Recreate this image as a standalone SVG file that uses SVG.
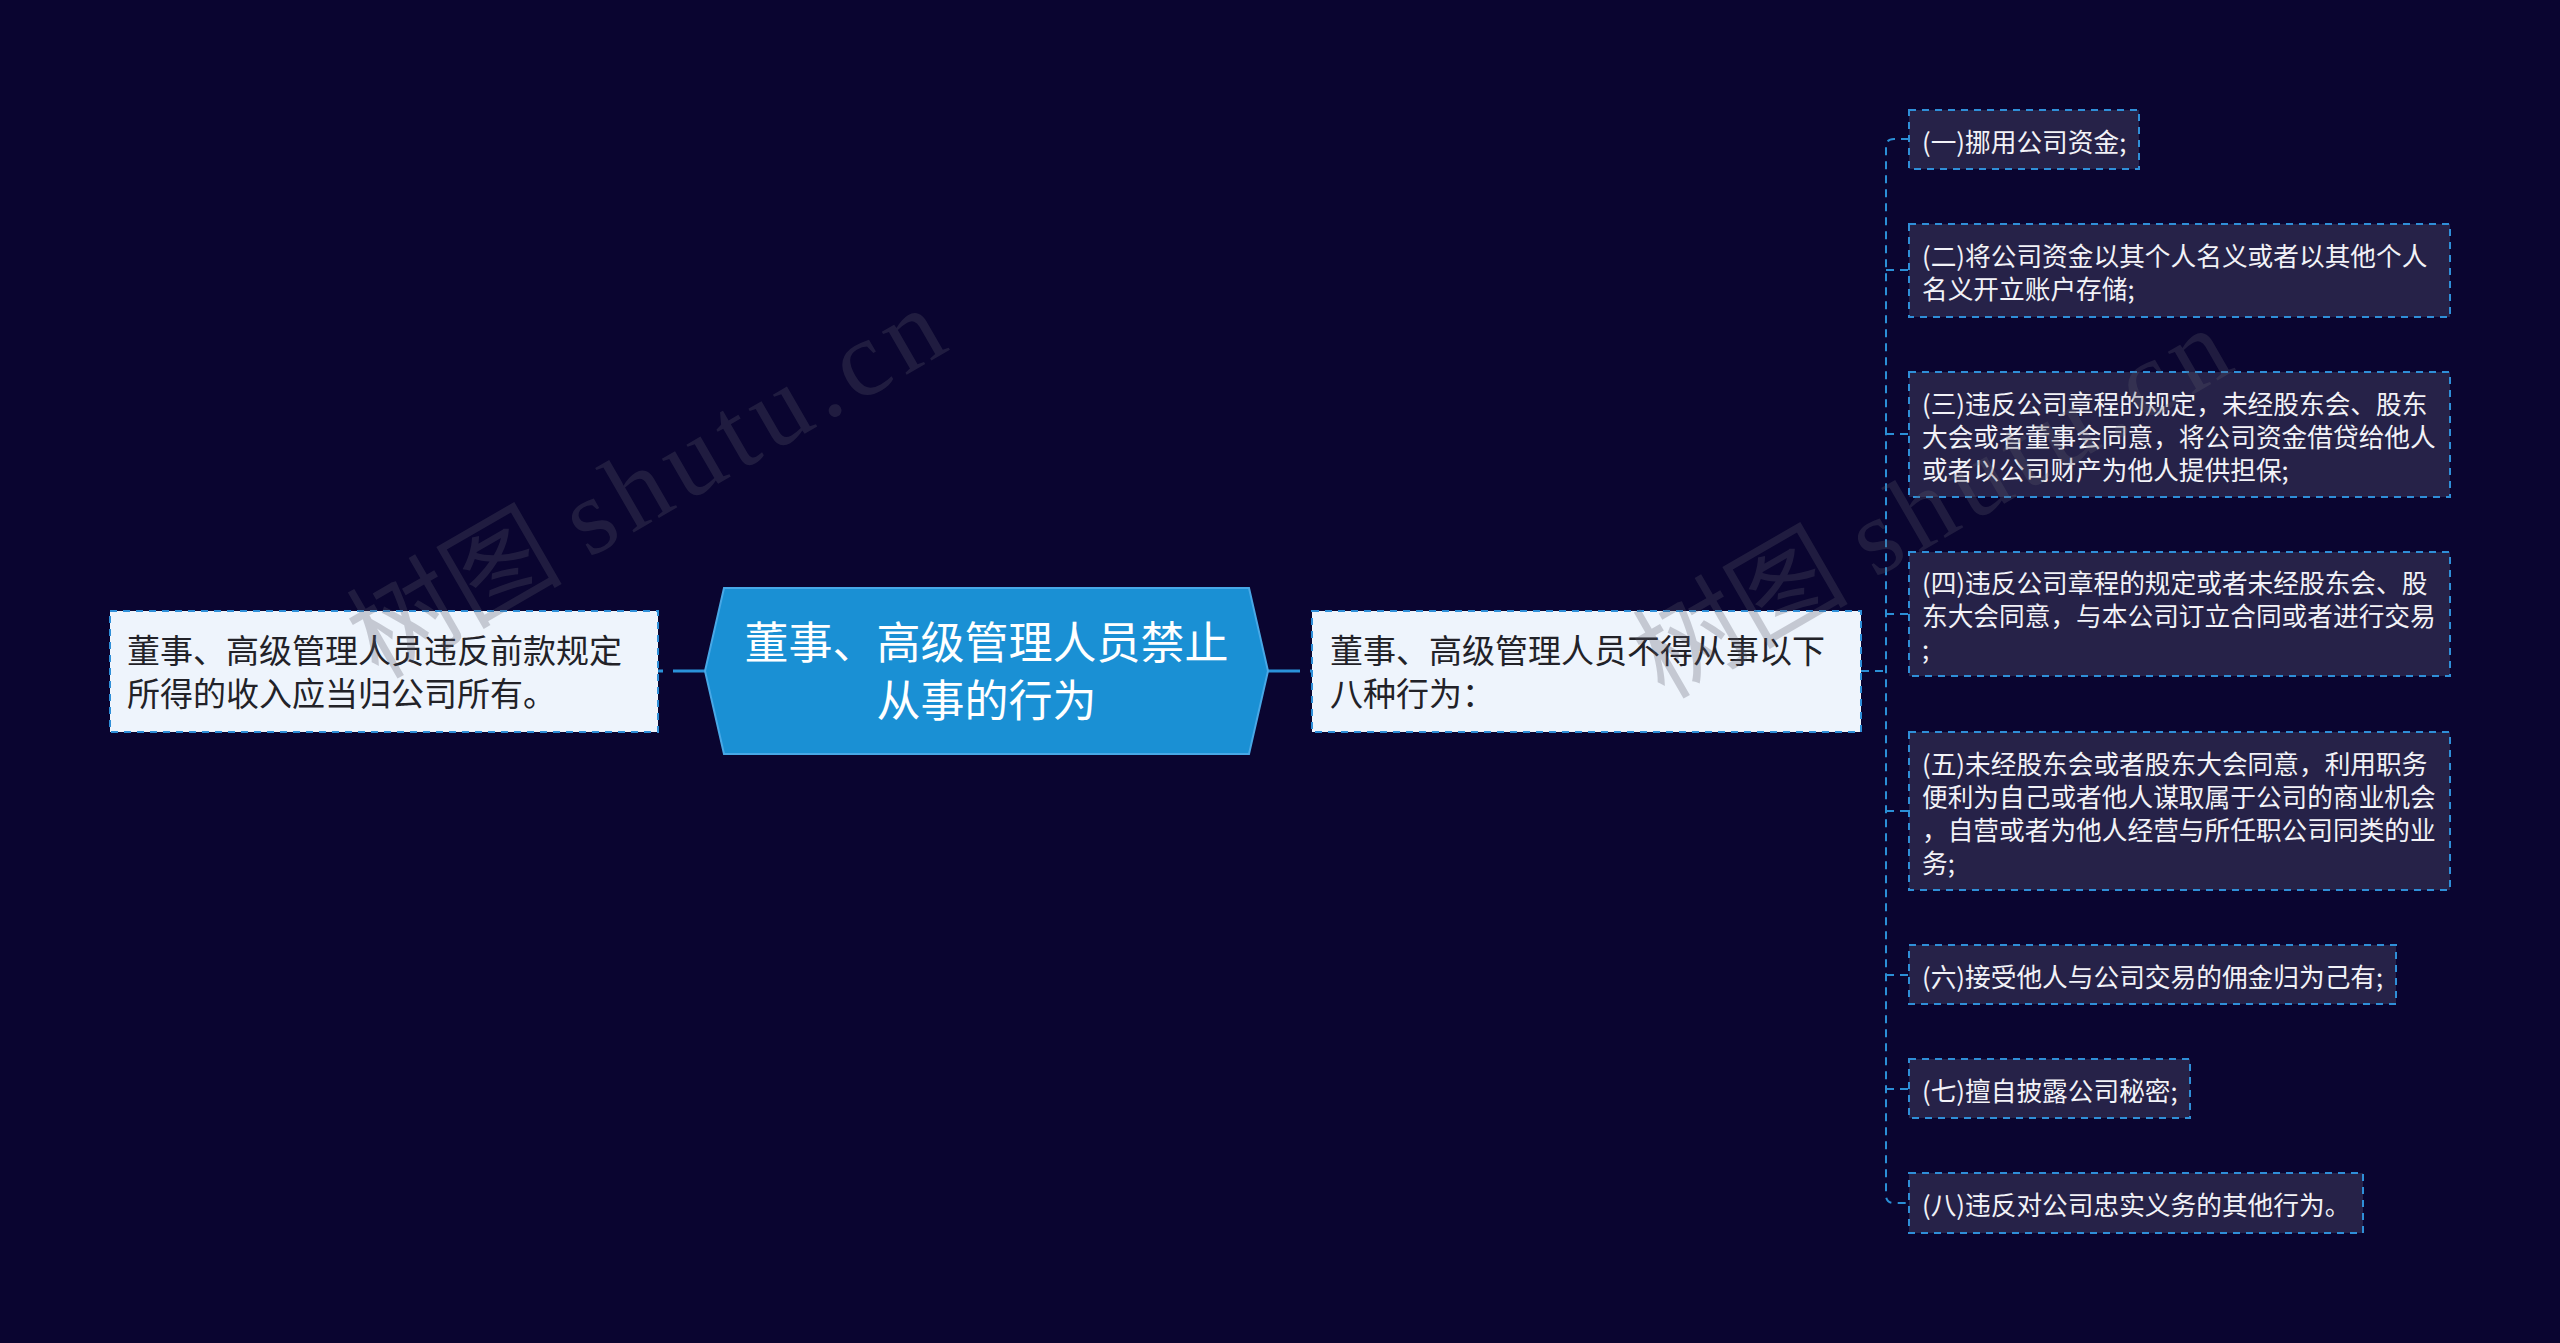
<svg xmlns="http://www.w3.org/2000/svg" width="2560" height="1343" viewBox="0 0 2560 1343">
<defs>
<style>
.bg{fill:#0a0530}
.conn{fill:none;stroke:#2b8fd6;stroke-width:2;stroke-dasharray:8 6}
.connmain{fill:none;stroke:#2a93da;stroke-width:3;stroke-dasharray:32 10}
.child rect{fill:#262248;stroke:#2f8fd8;stroke-width:2;stroke-dasharray:7 6}
.child text{font-family:"Noto Sans CJK SC","Liberation Sans",sans-serif;font-size:25.7px;fill:#f2f2f7}
.main rect{fill:#eef4fc;stroke:#2f8fd8;stroke-width:2;stroke-dasharray:7 6}
.main text{font-family:"Noto Sans CJK SC","Liberation Sans",sans-serif;font-size:33px;fill:#222228}
.center polygon{fill:#1a90d4;stroke:#48a8e6;stroke-width:2}
.center text{font-family:"Noto Sans CJK SC","Liberation Sans",sans-serif;font-size:44px;fill:#ffffff;text-anchor:middle}
.wm{font-family:"Liberation Serif","Noto Sans CJK SC",serif;font-size:108px;fill:#5a5a6a;opacity:0.28}
</style>
</defs>
<rect class="bg" x="0" y="0" width="2560" height="1343"/>

<g id="connectors">
<path class="connmain" d="M705,671 H658"/>
<path class="connmain" d="M1268,671 H1312"/>
<path class="conn" d="M1861,671 H1886"/>
<path class="conn" d="M1909,139 H1894 Q1886,139 1886,147 V1195 Q1886,1203 1894,1203 H1909"/>
<path class="conn" d="M1886,270 H1909"/>
<path class="conn" d="M1886,434 H1909"/>
<path class="conn" d="M1886,614 H1909"/>
<path class="conn" d="M1886,811 H1909"/>
<path class="conn" d="M1886,975 H1909"/>
<path class="conn" d="M1886,1089 H1909"/>
</g>

<g id="center" class="center">
<polygon points="724,588 1249,588 1268,671 1249,754 724,754 705,671"/>
<text x="986.5" y="659">董事、高级管理人员禁止</text>
<text x="986.5" y="717">从事的行为</text>
</g>

<g id="left-node" class="main">
<rect x="110" y="611" width="548" height="121"/>
<text x="127" y="663">董事、高级管理人员违反前款规定</text>
<text x="127" y="706">所得的收入应当归公司所有。</text>
</g>

<g id="right-node" class="main">
<rect x="1312" y="611" width="549" height="121"/>
<text x="1330" y="663">董事、高级管理人员不得从事以下</text>
<text x="1330" y="706">八种行为：</text>
</g>

<g id="item1" class="child">
<rect x="1909" y="110" width="230" height="59"/>
<text x="1922" y="151.5">(一)挪用公司资金;</text>
</g>
<g id="item2" class="child">
<rect x="1909" y="224" width="541" height="93"/>
<text x="1922" y="266">(二)将公司资金以其个人名义或者以其他个人</text>
<text x="1922" y="299">名义开立账户存储;</text>
</g>
<g id="item3" class="child">
<rect x="1909" y="372" width="541" height="125"/>
<text x="1922" y="413.5">(三)违反公司章程的规定，未经股东会、股东</text>
<text x="1922" y="446.5">大会或者董事会同意，将公司资金借贷给他人</text>
<text x="1922" y="479.5">或者以公司财产为他人提供担保;</text>
</g>
<g id="item4" class="child">
<rect x="1909" y="552" width="541" height="124"/>
<text x="1922" y="593">(四)违反公司章程的规定或者未经股东会、股</text>
<text x="1922" y="626">东大会同意，与本公司订立合同或者进行交易</text>
<text x="1922" y="659">;</text>
</g>
<g id="item5" class="child">
<rect x="1909" y="732" width="541" height="158"/>
<text x="1922" y="773.5">(五)未经股东会或者股东大会同意，利用职务</text>
<text x="1922" y="806.5">便利为自己或者他人谋取属于公司的商业机会</text>
<text x="1922" y="839.5">，自营或者为他人经营与所任职公司同类的业</text>
<text x="1922" y="872.5">务;</text>
</g>
<g id="item6" class="child">
<rect x="1909" y="945" width="487" height="59"/>
<text x="1922" y="986.5">(六)接受他人与公司交易的佣金归为己有;</text>
</g>
<g id="item7" class="child">
<rect x="1909" y="1059" width="281" height="59"/>
<text x="1922" y="1100.5">(七)擅自披露公司秘密;</text>
</g>
<g id="item8" class="child">
<rect x="1909" y="1173" width="454" height="60"/>
<text x="1922" y="1215">(八)违反对公司忠实义务的其他行为。</text>
</g>

<g id="watermark">
<text class="wm" transform="translate(378,680) rotate(-30)">树图 <tspan letter-spacing="8">shutu.cn</tspan></text>
<text class="wm" transform="translate(1664,700) rotate(-30)">树图 <tspan letter-spacing="8">shutu.cn</tspan></text>
</g>
</svg>
